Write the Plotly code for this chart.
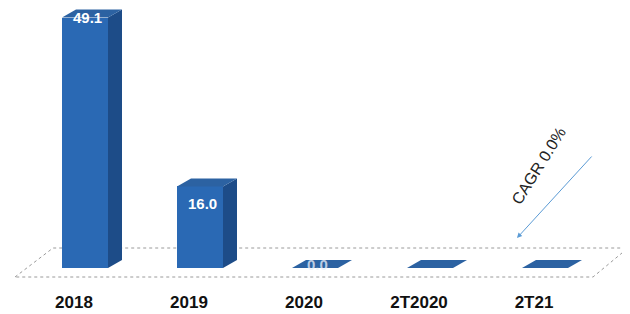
import plotly.graph_objects as go

categories = ["2018", "2019", "2020", "2T2020", "2T21"]
values = [49.1, 16.0, 0.0, 0.0, 0.0]
value_labels = ["49.1", "16.0", "0.0", "", ""]
cagr_text = "CAGR 0.0%"

# page offset (default body margin of the html page)
OFF = 8
W, H = 630 - OFF, 314 - OFF
PLOT_BOTTOM_PAGE = 290
MB = OFF + H - PLOT_BOTTOM_PAGE
X0PX, XSTEP = 85.0, 115.0     # page px of category 0 centre, px per category
Y0PX, YSCALE = 268.0, 5.1     # page px of value 0, px per unit

def dx_(px):
    return (px - X0PX) / XSTEP

def dy_(py):
    return (Y0PX - py) / YSCALE

FRONT = "#2a69b4"
SIDE = "#1d4c88"
TOP = "#2c62a2"
BW = 46 / XSTEP
DX = 14 / XSTEP
DY = 8 / YSCALE
# label vertical offset (px below the front top edge) for the two tall bars
label_offset_px = [0, 17, -4, 0, 0]

xs = list(range(len(categories)))
fig = go.Figure()
fig.add_trace(go.Bar(x=xs, y=values, width=BW, marker=dict(color=FRONT, line=dict(width=0)),
                     hoverinfo="skip", showlegend=False))

shapes = []
# floor
fl = [(15, 277), (53, 248), (628, 248), (593, 277)]
path = "M " + " L ".join(f"{dx_(a)},{dy_(b)}" for a, b in fl) + " Z"
shapes.append(dict(type="path", path=path, xref="x", yref="y", layer="below",
                   line=dict(color="#9a9a9a", width=1, dash="dot"), fillcolor="rgba(0,0,0,0)"))

for x, v in zip(xs, values):
    r = x + BW / 2
    l = x - BW / 2
    if v > 0:
        side = f"M {r},0 L {r+DX},{DY} L {r+DX},{v+DY} L {r},{v} Z"
        shapes.append(dict(type="path", path=side, xref="x", yref="y", line=dict(width=0), fillcolor=SIDE))
    top = f"M {l},{v} L {l+DX},{v+DY} L {r+DX},{v+DY} L {r},{v} Z"
    shapes.append(dict(type="path", path=top, xref="x", yref="y", line=dict(width=0), fillcolor=TOP))

annotations = []
for x, v, t, off in zip(xs, values, value_labels, label_offset_px):
    if t:
        annotations.append(dict(x=x + 0.02, y=v, xref="x", yref="y", text=f"<b>{t}</b>", showarrow=False,
                                yanchor="middle", yshift=-off,
                                font=dict(family="Liberation Sans", size=15,
                                          color="white" if v > 0 else "rgba(235,240,250,0.75)")))

# CAGR arrow and text
annotations.append(dict(x=dx_(517), y=dy_(238), xref="x", yref="y", ax=dx_(593), ay=dy_(155),
                        axref="x", ayref="y", text="", showarrow=True, arrowhead=2, arrowsize=1,
                        arrowwidth=1, arrowcolor="#5b9bd5"))
annotations.append(dict(x=dx_(538), y=dy_(166), xref="x", yref="y", text=cagr_text, showarrow=False,
                        textangle=-58, font=dict(family="Liberation Sans", size=16, color="#222222")))

fig.update_layout(
    width=W, height=H, margin=dict(l=0, r=0, t=0, b=MB, autoexpand=False),
    paper_bgcolor="white", plot_bgcolor="white",
    shapes=shapes, annotations=annotations,
    xaxis=dict(range=[dx_(OFF), dx_(630)], showgrid=False, zeroline=False, showline=False,
               tickvals=[x - 11 / XSTEP for x in xs], ticktext=categories, ticks="",
               tickfont=dict(family="Liberation Sans", size=17, color="#111111", weight="bold")),
    yaxis=dict(range=[dy_(PLOT_BOTTOM_PAGE), dy_(OFF)], visible=False),
    bargap=0,
)
fig.write_html("out.html")
